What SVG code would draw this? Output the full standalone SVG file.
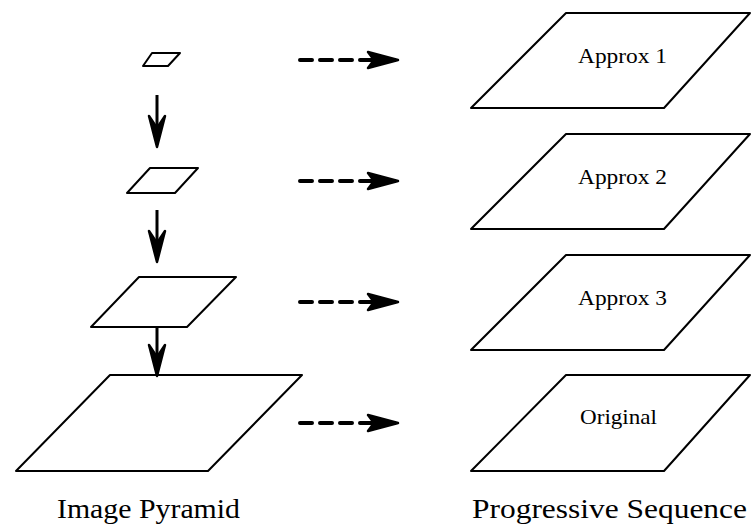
<svg xmlns="http://www.w3.org/2000/svg" width="752" height="525" viewBox="0 0 752 525">
<style>
.pg{fill:#fff;stroke:#000;stroke-width:2;stroke-linejoin:round}
.lbl{font-family:"Liberation Serif","Times New Roman",serif;font-size:22px;fill:#000;text-anchor:middle}
.cap{font-family:"Liberation Serif","Times New Roman",serif;font-size:28px;fill:#000;text-anchor:middle}
.vl{stroke:#000;stroke-width:3;fill:none}
.dl{stroke:#000;stroke-width:4;fill:none;stroke-dasharray:12 8;stroke-linecap:round}
.hd{fill:#000;stroke:#000;stroke-width:2.5;stroke-linejoin:round}
</style>
<rect width="752" height="525" fill="#fff"/>
<g id="pyr1"><polygon class="pg" points="152,53 180,53 168,66 143,66"/></g>
<g id="pyr2"><polygon class="pg" points="150,168 198,168 175,193 127,193"/></g>
<g id="pyr3"><polygon class="pg" points="139,277 236,277 187,327 91,327"/></g>
<g id="pyr4"><polygon class="pg" points="110,375 302,375 208,471 16,471"/></g>
<g id="seq1"><polygon class="pg" points="566,13 750,13 664,108 471,108"/><text class="lbl" x="622.5" y="63" textLength="89" lengthAdjust="spacingAndGlyphs">Approx 1</text></g>
<g id="seq2"><polygon class="pg" points="566,134 750,134 664,229 471,229"/><text class="lbl" x="622.5" y="184" textLength="89" lengthAdjust="spacingAndGlyphs">Approx 2</text></g>
<g id="seq3"><polygon class="pg" points="566,255 750,255 664,350 471,350"/><text class="lbl" x="622.5" y="305" textLength="89" lengthAdjust="spacingAndGlyphs">Approx 3</text></g>
<g id="seq4"><polygon class="pg" points="566,375 750,375 664,471 471,471"/><text class="lbl" x="618.5" y="424" textLength="77" lengthAdjust="spacingAndGlyphs">Original</text></g>
<g id="captions">
<text class="cap" x="148.5" y="518" textLength="183" lengthAdjust="spacingAndGlyphs">Image Pyramid</text>
<text class="cap" x="609.5" y="518" textLength="275" lengthAdjust="spacingAndGlyphs">Progressive Sequence</text>
</g>
<g id="connectors">
<line class="vl" x1="157" y1="95" x2="157" y2="140"/>
<polygon class="hd" points="157,147 149,116 157,128 165,116"/>
<line class="vl" x1="157" y1="210" x2="157" y2="255"/>
<polygon class="hd" points="157,262 149,231 157,243 165,231"/>
<line class="vl" x1="157" y1="327" x2="157" y2="369"/>
<polygon class="hd" points="157,376 149,345 157,357 165,345"/>
<line class="dl" x1="300" y1="60" x2="372" y2="60"/>
<polygon class="hd" points="398,60 368,52 374,60 368,68"/>
<line class="dl" x1="300" y1="181" x2="372" y2="181"/>
<polygon class="hd" points="398,181 368,173 374,181 368,189"/>
<line class="dl" x1="300" y1="302" x2="372" y2="302"/>
<polygon class="hd" points="398,302 368,294 374,302 368,310"/>
<line class="dl" x1="300" y1="423" x2="372" y2="423"/>
<polygon class="hd" points="398,423 368,415 374,423 368,431"/>
</g>
</svg>
